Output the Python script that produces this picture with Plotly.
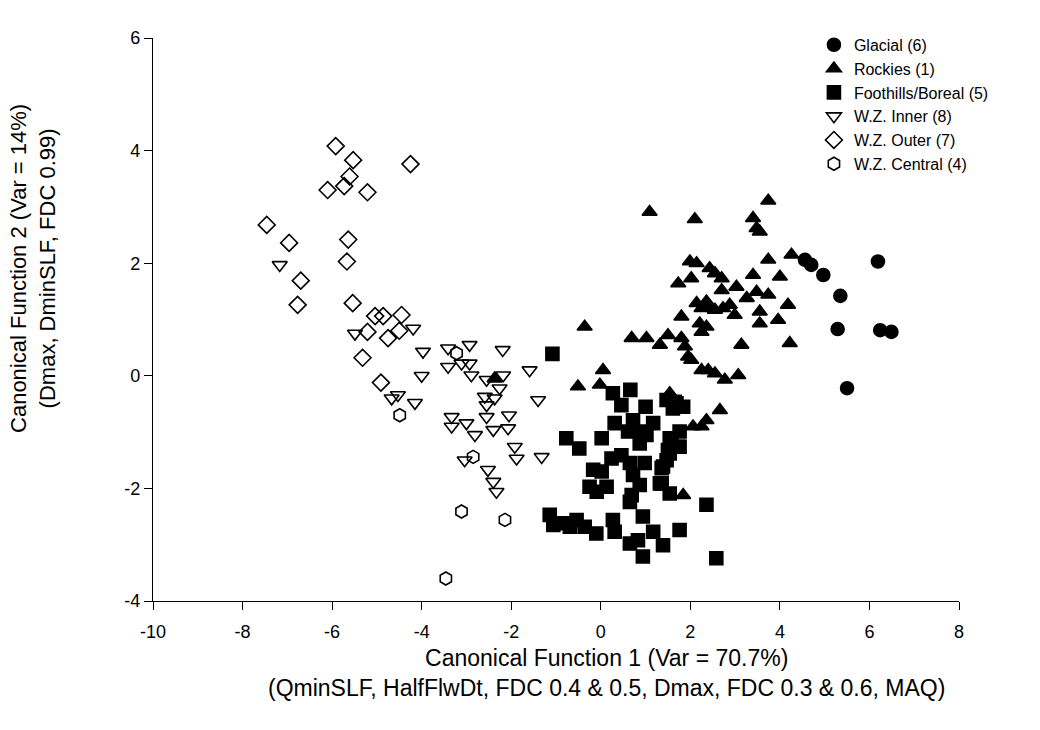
import plotly.graph_objects as go

# Glacial (6)
glacial_x = [4.56, 4.70, 4.97, 5.35, 5.29, 6.19, 6.24, 6.49, 5.50]
glacial_y = [2.06, 1.97, 1.79, 1.42, 0.83, 2.03, 0.81, 0.78, -0.22]

# Rockies (1)
rockies_x = [1.09, 2.10, 3.74, 3.40, 3.48, 3.55, 3.74, 4.26, 1.99, 2.14, 2.43, 2.55, 2.70, 2.02,
             1.73, 3.40, 4.00, 3.03, 2.70, 3.48, 3.26, 3.74, 2.14, 2.36, 2.43, 2.55, 2.25, 2.73,
             2.88, 2.99, 3.55, 4.18, 1.80, 2.21, 2.36, 2.25, 3.55, 3.96, 1.02, 1.50, 1.32, 1.80,
             1.88, 3.14, 4.22, 1.95, 2.02, 2.25, 2.40, 2.55, 2.77, 3.07, 1.54, -0.36, 0.69, 0.05,
             -0.51, -0.02, 2.66, 2.36, 2.06, 2.25, 1.84, -2.37]
rockies_y = [2.91, 2.78, 3.11, 2.80, 2.62, 2.56, 2.06, 2.15, 2.03, 2.00, 1.91, 1.82, 1.73, 1.73,
             1.64, 1.79, 1.76, 1.58, 1.52, 1.49, 1.38, 1.44, 1.29, 1.32, 1.23, 1.17, 1.20, 1.20,
             1.26, 1.08, 1.14, 1.26, 1.05, 0.93, 0.87, 0.78, 0.93, 0.99, 0.67, 0.72, 0.55, 0.67,
             0.52, 0.55, 0.58, 0.34, 0.28, 0.10, 0.10, 0.04, -0.07, 0.01, -0.31, 0.87, 0.67, 0.10,
             -0.19, -0.16, -0.61, -0.79, -0.90, -0.90, -2.12, -0.05]

# Foothills/Boreal (5)
foot_x = [-1.08, 0.27, 0.66, 0.46, 1.00, 1.47, 1.69, 1.84, 1.61, 0.31, 0.72, 1.17, 0.61, 0.87,
          1.02, 1.76, 1.58, -0.77, -0.48, 0.02, 0.87, 1.76, 0.24, 0.46, 0.65, 0.98, 1.54, 1.39,
          -0.17, 0.02, 0.72, 0.87, -0.25, 0.13, -0.09, 1.32, 1.54, 0.69, 0.65, 2.36, -1.14, -1.06,
          -0.84, -0.69, -0.54, -0.36, -0.10, 0.27, 0.31, 0.94, 1.17, 1.76, 0.65, 0.83, 1.39, 0.94,
          2.58, 1.65, 1.54, 1.73, 1.50, 1.47, 1.36, 1.36]
foot_y = [0.39, -0.31, -0.25, -0.52, -0.55, -0.43, -0.49, -0.55, -0.58, -0.84, -0.79, -0.84,
          -0.99, -0.99, -1.05, -0.99, -1.11, -1.11, -1.29, -1.11, -1.20, -1.26, -1.47, -1.41,
          -1.55, -1.55, -1.38, -1.61, -1.67, -1.70, -1.76, -1.94, -1.97, -1.97, -2.06, -1.91,
          -2.09, -2.12, -2.24, -2.29, -2.47, -2.65, -2.62, -2.68, -2.56, -2.68, -2.80, -2.56,
          -2.77, -2.50, -2.77, -2.74, -2.98, -2.92, -3.01, -3.21, -3.24, -0.46, -1.11, -1.26,
          -1.32, -1.50, -1.64, -1.91]

# W.Z. Inner (8)
inner_x = [-7.17, -5.49, -4.19, -3.97, -4.00, -4.67, -4.53, -4.15, -3.41, -2.93, -2.19, -3.41,
           -3.11, -2.93, -2.89, -2.55, -2.18, -1.59, -2.26, -2.59, -2.37, -2.55, -1.40, -3.33,
           -3.33, -3.00, -2.81, -2.55, -2.40, -2.05, -2.07, -1.92, -1.88, -1.32, -3.04, -2.52,
           -2.40, -2.33]
inner_y = [1.97, 0.75, 0.84, 0.43, 0.00, -0.40, -0.34, -0.48, 0.49, 0.55, 0.46, 0.16, 0.22,
           0.22, 0.01, -0.07, 0.01, 0.10, -0.22, -0.37, -0.40, -0.52, -0.43, -0.73, -0.90,
           -0.84, -1.05, -0.73, -0.96, -0.70, -0.93, -1.26, -1.47, -1.44, -1.50, -1.67, -1.88,
           -2.06]

# W.Z. Outer (7)
outer_x = [-5.92, -5.53, -4.25, -5.61, -5.73, -6.10, -5.21, -7.46, -6.96, -5.64, -5.67, -6.70,
           -6.77, -5.54, -5.04, -4.86, -4.45, -5.21, -4.50, -4.75, -5.32, -4.91]
outer_y = [4.08, 3.83, 3.76, 3.54, 3.37, 3.30, 3.26, 2.68, 2.36, 2.42, 2.03, 1.69, 1.26, 1.29,
           1.06, 1.06, 1.08, 0.78, 0.80, 0.67, 0.32, -0.12]

# W.Z. Central (4)
central_x = [-4.49, -3.22, -2.85, -3.11, -2.14, -3.46]
central_y = [-0.70, 0.40, -1.44, -2.41, -2.56, -3.60]

series = [
    ("Glacial (6)", glacial_x, glacial_y, "circle"),
    ("Rockies (1)", rockies_x, rockies_y, "triangle-up"),
    ("Foothills/Boreal (5)", foot_x, foot_y, "square"),
    ("W.Z. Inner (8)", inner_x, inner_y, "triangle-down-open"),
    ("W.Z. Outer (7)", outer_x, outer_y, "diamond-open"),
    ("W.Z. Central (4)", central_x, central_y, "hexagon-open"),
]

x_ticks = [-10, -8, -6, -4, -2, 0, 2, 4, 6, 8]
x_tick_labels = ["-10", "-8", "-6", "-4", "-2", "0", "2", "4", "6", "8"]
y_ticks = [-4, -2, 0, 2, 4, 6]
y_tick_labels = ["-4", "-2", "0", "2", "4", "6"]

x_title = "Canonical Function 1 (Var = 70.7%)<br>(QminSLF, HalfFlwDt, FDC 0.4 & 0.5, Dmax, FDC 0.3 & 0.6, MAQ)"
y_title = "Canonical Function 2 (Var = 14%)<br>(Dmax, DminSLF, FDC 0.99)"

fig = go.Figure()
for name, xs, ys, sym in series:
    fig.add_trace(go.Scatter(
        x=xs, y=ys, mode="markers", name=name,
        marker=dict(symbol=sym, size=13, color="black",
                    line=dict(color="black", width=1.6)),
    ))

font = "Liberation Sans, Arial, sans-serif"
fig.update_layout(
    width=1040, height=730,
    margin=dict(l=153, r=81, t=38, b=129),
    paper_bgcolor="white", plot_bgcolor="white",
    font=dict(family=font, color="black", size=16),
    showlegend=True,
    legend=dict(x=0.82, y=1.018, xanchor="left", yanchor="top",
                bgcolor="rgba(0,0,0,0)", font=dict(size=16, family=font),
                itemwidth=30, tracegroupgap=0),
    xaxis=dict(range=[-10, 8], tickvals=x_ticks, ticktext=x_tick_labels,
               showgrid=False, zeroline=False,
               showline=True, linecolor="black", linewidth=1.2, ticks="outside",
               ticklen=8, tickcolor="black", tickfont=dict(size=18),
               ticklabelstandoff=6),
    yaxis=dict(range=[-4, 6], tickvals=y_ticks, ticktext=y_tick_labels,
               showgrid=False, zeroline=False,
               showline=True, linecolor="black", linewidth=1.2, ticks="outside",
               ticklen=8, tickcolor="black", tickfont=dict(size=18)),
    annotations=[
        dict(text=x_title, xref="paper", yref="paper", x=0.5625, y=-0.074,
             xanchor="center", yanchor="top", showarrow=False,
             font=dict(size=23, family=font)),
        dict(text=y_title, xref="paper", yref="paper", x=-0.148, y=0.591,
             xanchor="center", yanchor="middle", textangle=-90, showarrow=False,
             font=dict(size=22, family=font)),
    ],
)

fig.write_html("out.html")
